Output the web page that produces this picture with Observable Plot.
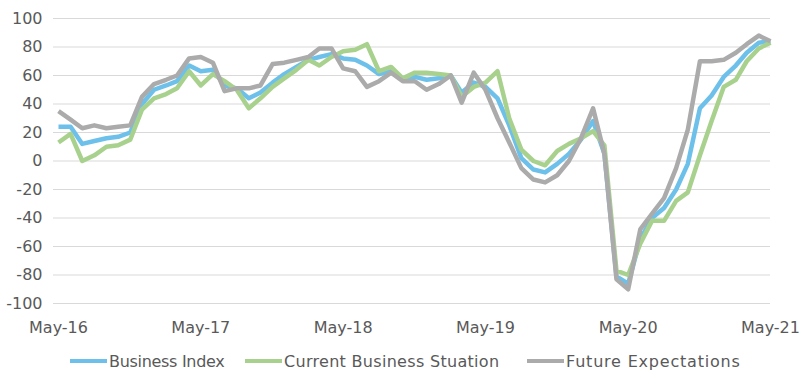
<!DOCTYPE html>
<html><head><meta charset="utf-8">
<script src="https://cdn.jsdelivr.net/npm/d3@7"></script>
<script src="https://cdn.jsdelivr.net/npm/@observablehq/plot@0.6"></script>
<style>
body{margin:0;background:#fff;font-family:"DejaVu Sans",sans-serif;}
#chart{position:relative;width:802px;height:374px;overflow:hidden;background:#fff}
.legend{position:absolute;top:350px;left:0;width:802px;height:22px;font-size:16px;color:#595959}
.item{position:absolute;top:0;height:22px;display:flex;align-items:center;white-space:nowrap}
.sw{display:inline-block;width:37px;height:4px;margin-right:2px}
</style></head><body>
<div id="chart"></div>
<script>
// ---- data (monthly, May-2016 .. May-2021) ----
const startMonth = "2016-05";
const seriesNames = ["Business Index", "Current Business Stuation", "Future Expectations"];
const seriesColors = ["#6DC0EA", "#A9D18E", "#ABABAB"];
const businessIndex = [24,24,12,14,16,17,20,40,50,53,56,67,63,64,53,51,44,48,55,61,66,71,73,75,72,71,67,61,63,57,59,57,58,60,48,55,52,44,25,2,-6,-8,-2,5,15,28,5,-81,-86,-55,-40,-33,-20,-2,37,46,59,67,76,83,84];
const currentSituation = [13,19,0,4,10,11,15,36,44,47,51,63,53,61,56,50,37,44,52,58,64,71,67,73,77,78,82,63,66,58,62,62,61,60,45,52,55,63,30,8,0,-3,7,12,16,21,11,-77,-80,-58,-42,-42,-28,-22,4,28,52,57,70,79,83];
const futureExpectations = [35,29,23,25,23,24,25,45,54,57,60,72,73,69,49,51,51,53,68,69,71,73,79,79,65,63,52,56,62,56,56,50,54,60,41,62,50,30,13,-5,-13,-15,-10,0,16,37,5,-83,-90,-48,-37,-26,-5,22,70,70,71,76,82,88,84];
const yTicks = [-100,-80,-60,-40,-20,0,20,40,60,80,100];
const xTickLabels = ["May-16","May-17","May-18","May-19","May-20","May-21"];

// ---- build table ----
const start = d3.utcParse("%Y-%m")(startMonth);
const months = businessIndex.map((_, i) => d3.utcMonth.offset(start, i));
const allSeries = [businessIndex, currentSituation, futureExpectations];
const rows = allSeries.flatMap((arr, s) => arr.map((v, i) => ({date: months[i], value: v, series: seriesNames[s]})));
const xTicks = xTickLabels.map(l => d3.utcParse("%b-%y")(l));

const plot = Plot.plot({
  width: 802, height: 340,
  marginTop: 18, marginBottom: 37, marginLeft: 53, marginRight: 32,
  style: {fontFamily: '"DejaVu Sans", sans-serif', fontSize: "16px", color: "#595959", background: "#fff", overflow: "visible"},
  x: {type: "utc", domain: [months[0], months[months.length - 1]], range: [58, 770]},
  y: {domain: [-100, 100]},
  marks: [
    Plot.ruleY(yTicks, {stroke: "#d9d9d9", strokeWidth: 1}),
    Plot.axisY({ticks: yTicks, tickSize: 0, tickPadding: 11, tickFormat: d => String(d), label: null, fontSize: 16, fill: "#595959"}),
    Plot.axisX({ticks: xTicks, tickSize: 0, tickPadding: 18, tickFormat: (d, i) => xTickLabels[i], label: null, fontSize: 16, fill: "#595959"}),
    ...seriesNames.map((name, s) =>
      Plot.line(rows.filter(r => r.series === name), {x: "date", y: "value", stroke: seriesColors[s], strokeWidth: 4.5, strokeLinejoin: "round", strokeLinecap: "butt"})
    )
  ]
});
const chart = document.getElementById("chart");
chart.appendChild(plot);

const legend = document.createElement("div");
legend.className = "legend";
const lefts = [70, 245, 527];
const spacing = ["-0.3px", "0.3px", "0.8px"];
seriesNames.forEach((name, s) => {
  const it = document.createElement("div");
  it.className = "item";
  it.style.left = lefts[s] + "px";
  it.innerHTML = `<span class="sw" style="background:${seriesColors[s]}"></span><span style="letter-spacing:${spacing[s]}">${name}</span>`;
  legend.appendChild(it);
});
chart.appendChild(legend);
</script>
</body></html>
